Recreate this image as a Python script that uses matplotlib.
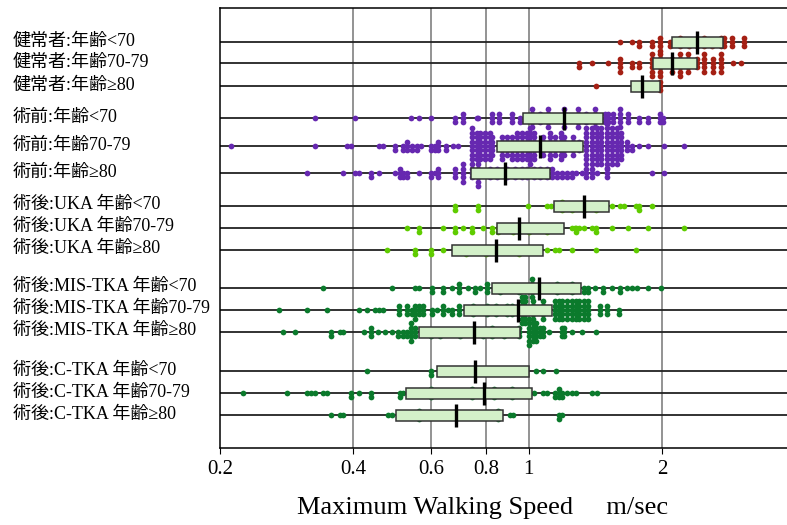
import numpy as np
import matplotlib.pyplot as plt
from matplotlib.patches import Rectangle
import matplotlib.transforms as mtransforms

# row labels, top to bottom
labels = ["健常者:年齢<70", "健常者:年齢70-79", "健常者:年齢≥80",
          "術前:年齢<70", "術前:年齢70-79", "術前:年齢≥80",
          "術後:UKA 年齢<70", "術後:UKA 年齢70-79", "術後:UKA 年齢≥80",
          "術後:MIS-TKA 年齢<70", "術後:MIS-TKA 年齢70-79", "術後:MIS-TKA 年齢≥80",
          "術後:C-TKA 年齢<70", "術後:C-TKA 年齢70-79", "術後:C-TKA 年齢≥80"]

# speeds (m/sec) and how many subjects sit on each speed
h70_v = [1.61, 1.71, 1.78, 1.90, 1.98, 2.09, 2.20, 2.30, 2.40, 2.49, 2.60, 2.72, 2.76, 2.88, 3.07]
h70_n = [1, 1, 2, 2, 4, 2, 3, 2, 2, 3, 2, 3, 3, 3, 3]
h7079_v = [1.30, 1.39, 1.51, 1.61, 1.71, 1.78, 1.90, 1.98, 2.11, 2.20, 2.29, 2.40, 2.49, 2.61, 2.72, 2.90, 3.02]
h7079_n = [2, 1, 1, 4, 2, 2, 6, 6, 4, 6, 5, 3, 5, 4, 5, 1, 1]
h80_v = [1.42, 1.75, 1.86, 1.98]
h80_n = [1, 1, 1, 3]

p70_v = [0.328, 0.404, 0.541, 0.564, 0.60, 0.680, 0.709, 0.763, 0.768, 0.825, 0.856, 0.915, 0.954,
         1.016, 1.06, 1.104, 1.20, 1.29, 1.35, 1.41, 1.49, 1.51, 1.55, 1.61, 1.68, 1.78, 1.86, 1.98, 2.01]
p70_n = [1, 1, 1, 1, 1, 2, 3, 1, 1, 3, 3, 3, 2, 5, 3, 5, 5, 5, 3, 5, 3, 3, 3, 5, 3, 2, 2, 3, 2]
p7079_v = [0.212, 0.328, 0.388, 0.396, 0.458, 0.468, 0.498, 0.519, 0.529, 0.543, 0.557, 0.57, 0.60,
           0.613, 0.624, 0.649, 0.673, 0.691, 0.743, 0.763, 0.775, 0.795, 0.816, 0.826, 0.869, 0.892,
           0.915, 0.940, 0.965, 0.99, 1.005, 1.03, 1.076, 1.116, 1.146, 1.18, 1.20, 1.258, 1.30, 1.35,
           1.39, 1.425, 1.46, 1.50, 1.54, 1.58, 1.62, 1.67, 1.71, 1.78, 1.86, 2.02, 2.24]
p7079_n = [1, 1, 1, 1, 1, 1, 2, 2, 3, 2, 2, 1, 2,
           2, 3, 2, 1, 1, 9, 7, 7, 7, 7, 5, 6, 5,
           6, 7, 7, 7, 9, 7, 5, 7, 5, 7, 5, 5, 3, 9,
           9, 9, 9, 11, 9, 9, 7, 3, 2, 1, 1, 1, 1]
p80_v = [0.315, 0.379, 0.404, 0.413, 0.439, 0.458, 0.498, 0.511, 0.519, 0.529, 0.564, 0.60, 0.613,
         0.624, 0.68, 0.709, 0.743, 0.768, 0.816, 0.847, 0.892, 0.93, 0.965, 0.99, 1.03, 1.06, 1.10,
         1.128, 1.157, 1.19, 1.22, 1.25, 1.28, 1.32, 1.35, 1.39, 1.425, 1.50, 1.90, 2.02]
p80_n = [1, 1, 1, 1, 2, 1, 1, 3, 2, 2, 1, 2, 1,
         3, 3, 5, 3, 7, 3, 3, 3, 3, 3, 3, 3, 3, 3,
         3, 2, 2, 2, 2, 1, 1, 3, 3, 1, 3, 1, 1]

u70_v = [0.680, 0.768, 0.997, 1.10, 1.12, 1.19, 1.25, 1.33, 1.42, 1.54, 1.61, 1.64, 1.75, 1.78, 1.90]
u70_n = [2, 2, 1, 1, 1, 3, 2, 2, 2, 1, 1, 1, 1, 2, 1]
u7079_v = [0.530, 0.564, 0.639, 0.680, 0.709, 0.743, 0.787, 0.825, 0.851, 0.869, 0.92, 1.0, 1.10,
           1.25, 1.27, 1.28, 1.30, 1.33, 1.39, 1.42, 1.54, 1.68, 1.86, 2.24]
u7079_n = [1, 2, 1, 2, 1, 2, 1, 2, 2, 1, 2, 2, 2, 1, 1, 2, 1, 1, 1, 2, 1, 1, 1, 1]
u80_v = [0.478, 0.552, 0.60, 0.639, 0.72, 0.80, 0.95, 1.10, 1.146, 1.17, 1.25, 1.42, 1.75]
u80_n = [1, 2, 2, 1, 2, 2, 2, 1, 1, 1, 1, 1, 1]

m70_v = [0.342, 0.490, 0.552, 0.564, 0.604, 0.639, 0.670, 0.695, 0.728, 0.757, 0.775, 0.804, 0.86,
         0.95, 1.016, 1.16, 1.25, 1.33, 1.36, 1.41, 1.47, 1.54, 1.61, 1.67, 1.71, 1.76, 1.86, 1.99]
m70_n = [1, 1, 1, 1, 2, 2, 1, 3, 1, 2, 1, 3, 2, 2, 5, 3, 3, 2, 2, 1, 2, 1, 2, 1, 1, 1, 1, 1]
m7079_v = [0.272, 0.315, 0.349, 0.413, 0.430, 0.449, 0.458, 0.468, 0.508, 0.530, 0.543, 0.552, 0.564,
           0.576, 0.604, 0.619, 0.639, 0.655, 0.670, 0.695, 0.747, 0.804, 0.842, 0.892, 0.915, 0.965,
           0.98, 1.02, 1.076, 1.146, 1.17, 1.19, 1.22, 1.25, 1.28, 1.30, 1.33, 1.36, 1.45, 1.50, 1.60]
m7079_n = [1, 1, 1, 1, 1, 1, 1, 1, 3, 3, 2, 4, 3,
           3, 2, 1, 3, 1, 2, 3, 3, 3, 3, 3, 3, 7,
           7, 5, 5, 5, 5, 5, 5, 5, 5, 5, 5, 5, 3, 3, 2]
m80_v = [0.278, 0.296, 0.357, 0.374, 0.379, 0.423, 0.439, 0.455, 0.472, 0.490, 0.505, 0.519, 0.530,
         0.540, 0.552, 0.60, 0.63, 0.698, 0.787, 0.825, 0.88, 0.95, 1.0, 1.02, 1.04, 1.06, 1.076,
         1.11, 1.19, 1.20, 1.25, 1.32, 1.42]
m80_n = [1, 1, 2, 1, 1, 1, 3, 1, 1, 1, 2, 2, 2, 5, 3, 2, 2, 2, 2, 3, 2, 3, 7, 5, 5, 3, 3, 1, 3, 3, 1, 1, 1]

c70_v = [0.430, 0.60, 0.70, 0.85, 1.04, 1.076, 1.15]
c70_n = [1, 2, 1, 1, 1, 1, 1]
c7079_v = [0.225, 0.284, 0.315, 0.321, 0.328, 0.342, 0.349, 0.396, 0.413, 0.439, 0.511, 0.519, 0.60,
           0.743, 0.836, 0.915, 1.03, 1.076, 1.10, 1.146, 1.17, 1.19, 1.22, 1.25, 1.28, 1.39, 1.425]
c7079_n = [1, 1, 1, 1, 1, 1, 1, 2, 1, 2, 2, 1, 3, 3, 3, 3, 1, 1, 1, 2, 3, 2, 1, 1, 1, 1, 1]
c80_v = [0.357, 0.374, 0.379, 0.480, 0.490, 0.564, 0.85, 0.906, 0.922, 1.17, 1.19]
c80_n = [1, 1, 1, 1, 1, 3, 3, 1, 1, 2, 1]

speeds = [h70_v, h7079_v, h80_v, p70_v, p7079_v, p80_v, u70_v, u7079_v, u80_v,
          m70_v, m7079_v, m80_v, c70_v, c7079_v, c80_v]
counts = [h70_n, h7079_n, h80_n, p70_n, p7079_n, p80_n, u70_n, u7079_n, u80_n,
          m70_n, m7079_n, m80_n, c70_n, c7079_n, c80_n]

# box: lower quartile, median, upper quartile
q1 = [2.11, 1.91, 1.70, 0.968, 0.847, 0.740, 1.14, 0.847, 0.670, 0.825, 0.713, 0.564, 0.619, 0.527, 0.500]
med = [2.40, 2.11, 1.80, 1.20, 1.06, 0.882, 1.33, 0.95, 0.842, 1.054, 0.944, 0.751, 0.757, 0.791, 0.684]
q3 = [2.75, 2.40, 1.98, 1.47, 1.326, 1.116, 1.52, 1.20, 1.076, 1.31, 1.128, 0.954, 1.0, 1.016, 0.874]

# layout
rows_y = [42, 63, 86, 118, 146, 173, 206, 228, 250, 288, 310, 332, 371, 393, 415]
colors = ['#a52014'] * 3 + ['#6628b0'] * 3 + ['#5fcc00'] * 3 + ['#0b7a2c'] * 6
step = 4.4

plt.rcParams['hatch.linewidth'] = 0.8

fig = plt.figure(figsize=(7.87, 5.25), dpi=100)
ax = fig.add_axes([220 / 787, 77 / 525, 567 / 787, 440 / 525])
ax.set_xscale('log')
ax.set_xlim(0.2, 3.84)
ax.set_ylim(448, 8)

for g in [0.4, 0.6, 0.8, 1, 2]:
    ax.axvline(g, color='#808080', lw=1.2, zorder=0.5)

for i, y in enumerate(rows_y):
    ax.axhline(y, color='#222222', lw=1.3, zorder=1)
    xs, ys = [], []
    for v, n in zip(speeds[i], counts[i]):
        for k in range(n):
            off = (k + 1) // 2 * (1 if k % 2 else -1)
            xs.append(v)
            ys.append(y + off * step)
    ax.scatter(xs, ys, s=17, color=colors[i], linewidths=0, zorder=2)

    ax.add_patch(Rectangle((q1[i], y - 5.5), q3[i] - q1[i], 11, facecolor='#f7fdf5',
                           edgecolor='#d3f0c9', hatch='|' * 16, lw=0, zorder=3))
    ax.add_patch(Rectangle((q1[i], y - 5.5), q3[i] - q1[i], 11, facecolor='none',
                           edgecolor='#333333', lw=1.1, zorder=3.5))
    ax.plot([med[i], med[i]], [y - 11.5, y + 11.5], color='black', lw=2.4, zorder=4,
            solid_capstyle='butt')

lab_tr = mtransforms.blended_transform_factory(fig.transFigure, ax.transData)
for lab, y in zip(labels, rows_y):
    ax.text(13 / 787, y - 1, lab, transform=lab_tr, ha='left', va='center', fontsize=13,
            family=['Liberation Serif', 'Noto Sans CJK JP'])

ax.set_yticks([])
ax.set_xticks([0.2, 0.4, 0.6, 0.8, 1, 2])
ax.set_xticklabels(['0.2', '0.4', '0.6', '0.8', '1', '2'], family='Liberation Serif', fontsize=15)
ax.xaxis.set_minor_locator(plt.NullLocator())
ax.tick_params(axis='x', direction='out', length=4, pad=5)
ax.spines['right'].set_visible(False)
for s in ['left', 'top', 'bottom']:
    ax.spines[s].set_linewidth(1.1)

fig.text(297 / 787, 1 - 508 / 525, 'Maximum Walking Speed     m/sec', ha='left', va='center',
         fontsize=19, family='Liberation Serif')

fig.savefig('out.png', dpi=100)
